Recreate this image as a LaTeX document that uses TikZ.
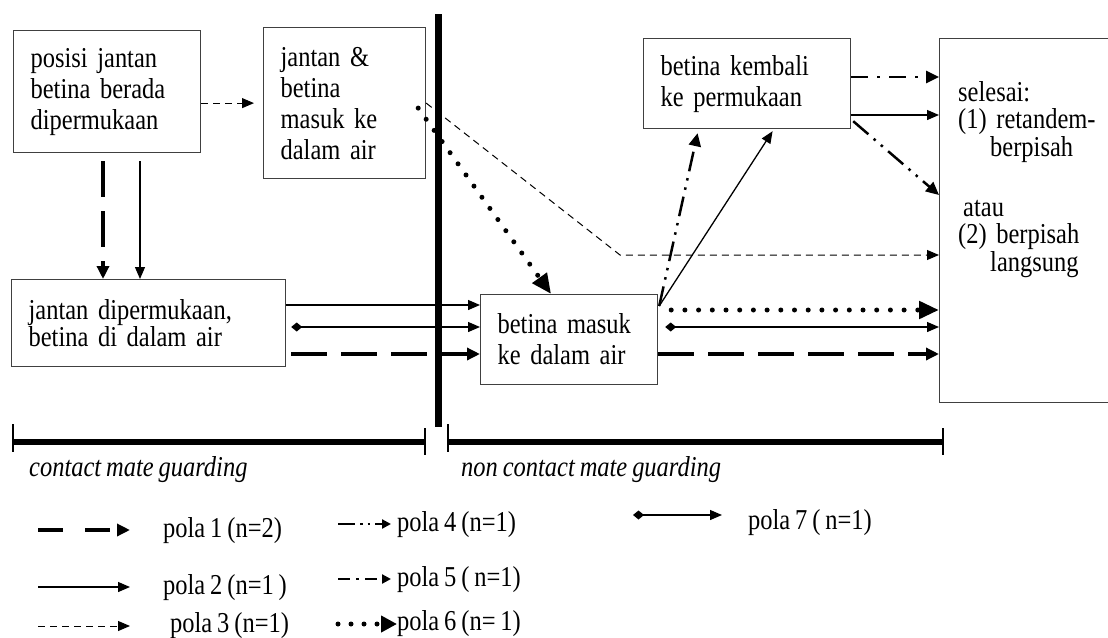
\documentclass[tikz,border=0pt]{standalone}
\usepackage{fontspec}
\setmainfont{Liberation Serif}[FakeStretch=0.85, WordSpace=0.8]
\usetikzlibrary{arrows.meta,calc}
\begin{document}
\begin{tikzpicture}[x=1pt,y=-1pt,
  font=\fontsize{28.8}{31}\selectfont,
  box/.style={draw=black!75, line width=1.2pt, anchor=north west, align=left, inner xsep=17pt, inner ysep=0pt},
  lbl/.style={anchor=west, inner sep=0pt},
  pa/.style={line width=3.5pt, dash pattern=on 36pt off 14pt, -{Triangle[length=13pt,width=12pt]}},
  pb/.style={line width=1.3pt, -{Triangle[length=12pt,width=10pt]}},
  pc/.style={line width=1pt, dash pattern=on 7pt off 5pt, -{Triangle[length=12pt,width=10pt]}},
  pd/.style={line width=2.5pt, dash pattern=on 20pt off 7pt on 2.5pt off 7pt on 2.5pt off 7pt, -{Triangle[length=13pt,width=12pt]}},
  pe/.style={line width=2.5pt, dash pattern=on 17pt off 9pt on 3pt off 9pt, -{Triangle[length=13pt,width=12pt]}},
  pf/.style={line width=5pt, line cap=round, dash pattern=on 0pt off 13.7pt, -{Triangle[length=20pt,width=17pt]}},
  pg/.style={line width=1.3pt, {Diamond[length=11pt,width=9pt]}-{Triangle[length=12pt,width=10pt]}}
]
\useasboundingbox (0,0) rectangle (1108,637);

% boxes
\node[box, minimum width=187pt, minimum height=122pt, text width=153pt] (A) at (13,30) {posisi jantan\\betina berada\\dipermukaan};
\node[box, minimum width=162pt, minimum height=151pt, text width=128pt] (B) at (263,27) {jantan \&\\betina\\masuk ke\\dalam air};
\node[box, minimum width=274pt, minimum height=87pt, text width=240pt, font=\fontsize{28.8}{27}\selectfont] (C) at (11,279) {jantan dipermukaan,\\betina di dalam air};
\node[box, minimum width=177pt, minimum height=90pt, text width=143pt] (D) at (480,294) {betina masuk\\ke dalam air};
\node[box, minimum width=207pt, minimum height=90pt, text width=173pt] (E) at (643,38) {betina kembali\\ke permukaan};
\node[draw=black!75, line width=1.2pt, anchor=north west, minimum width=176pt, minimum height=364pt, inner sep=0pt] (F) at (939,38) {};
\node[anchor=base west, text width=150pt, align=left, inner sep=0pt, font=\fontsize{28.8}{27.5}\selectfont] (Ft) at (958,101)
  {selesai:\\(1) retandem-\\\hspace*{32pt}berpisah\\[32.5pt]\hspace*{5pt}atau\\(2) berpisah\\\hspace*{32pt}langsung};

% separator
\draw[line width=7pt] (438,14) -- (438,427);

% helper coordinates
\coordinate (xa) at (103,0);
\coordinate (xb) at (140,0);
\coordinate (y1) at (0,305);
\coordinate (y2) at (0,327);
\coordinate (y3) at (0,354);
\coordinate (y4) at (0,310);
\coordinate (y5) at (0,77);
\coordinate (y6) at (0,115);
\coordinate (y7) at (0,195);
\coordinate (bend) at (620,255);

% A -> B, A -> C
\draw[pc, shorten >=9pt] (A.east |- B.west) -- (B.west);
\draw[pa, shorten <=8pt] (A.south -| xa) -- (C.north -| xa);
\draw[pb, shorten <=8pt] (A.south -| xb) -- (C.north -| xb);

% C -> D
\draw[pb] (C.east |- y1) -- (D.west |- y1);
\draw[pg, shorten <=5pt] (C.east |- y2) -- (D.west |- y2);
\draw[pa, shorten <=5pt] (C.east |- y3) -- (D.west |- y3);

% B -> D, B -> F
\draw[pf] ($(B.east)+(-8,5)$) -- ($(D.north)+(-18,0)$);
\draw[pc] (B.east) -- (bend) -- (F.west |- bend);

% D -> F
\draw[pf, shorten <=13pt] (D.east |- y4) -- (F.west |- y4);
\draw[pg, shorten <=7pt] (D.east |- y2) -- (F.west |- y2);
\draw[pa] (D.east |- y3) -- (F.west |- y3);

% D -> E
\coordinate (Do) at ($(D.north east)+(1,12)$);
\draw[pb] (Do) -- ($(E.south)+(25.5,2)$);
\draw[pd] (Do) -- ($(E.south)+(-49.5,4)$);

% E -> F
\draw[pe] (E.east |- y5) -- (F.west |- y5);
\draw[pb] (E.east |- y6) -- (F.west |- y6);
\draw[pd] ($(E.south east)+(2,-8)$) -- (F.west |- y7);

% brackets
\draw[line width=6pt] (13,442) -- (425,442);
\draw[line width=1.5pt] (13,424) -- (13,452);
\draw[line width=1.5pt] (425,428) -- (425,455);
\draw[line width=6pt] (448,442) -- (943,442);
\draw[line width=1.5pt] (448,424) -- (448,452);
\draw[line width=1.5pt] (943,428) -- (943,455);
\node[lbl, font=\fontsize{28.8}{31}\selectfont\itshape] (lc) at (29,470) {contact mate guarding};
\node[lbl, font=\fontsize{28.8}{31}\selectfont\itshape] (lnc) at (461,470) {non contact mate guarding};

% legend
\node[lbl] (t1) at (163,531) {pola 1 (n=2)};
\node[lbl] (t2) at (163,588) {pola 2 (n=1 )};
\node[lbl] (t3) at (170,626) {pola 3 (n=1)};
\node[lbl] (t4) at (397,525) {pola 4 (n=1)};
\node[lbl] (t5) at (397,580) {pola 5 ( n=1)};
\node[lbl] (t6) at (397,624) {pola 6 (n= 1)};
\node[lbl] (t7) at (748,523) {pola 7 ( n=1)};

\coordinate (l1) at (38,530);
\coordinate (l2) at (38,587);
\coordinate (l3) at (38,626);
\coordinate (l4) at (338,524);
\coordinate (l5) at (338,579);
\coordinate (l6) at (338,624);
\coordinate (l7) at (633,515);
\draw[pa, dash pattern=on 25pt off 22pt] (l1) -- (l1 -| t1.west) [shorten >=33pt];
\draw[pb] (l2) -- ($(l2 -| t2.west)+(-33,0)$);
\draw[pc] (l3) -- ($(l3 -| t3.west)+(-40,0)$);
\draw[line width=2.5pt, dash pattern=on 17pt off 5pt on 2.5pt off 5pt on 2.5pt off 5pt, -{Triangle[length=9pt,width=9pt]}] (l4) -- ($(l4 -| t4.west)+(-6,0)$);
\draw[line width=2.5pt, dash pattern=on 12pt off 6pt on 3pt off 6pt, -{Triangle[length=9pt,width=9pt]}] (l5) -- ($(l5 -| t5.west)+(-6,0)$);
\draw[pf, dash pattern=on 0pt off 13pt, -{Triangle[length=16pt,width=16pt]}] (l6) -- (l6 -| t6.west);
\draw[pg] (l7) -- ($(l7 -| t7.west)+(-26,0)$);
\end{tikzpicture}
\end{document}
